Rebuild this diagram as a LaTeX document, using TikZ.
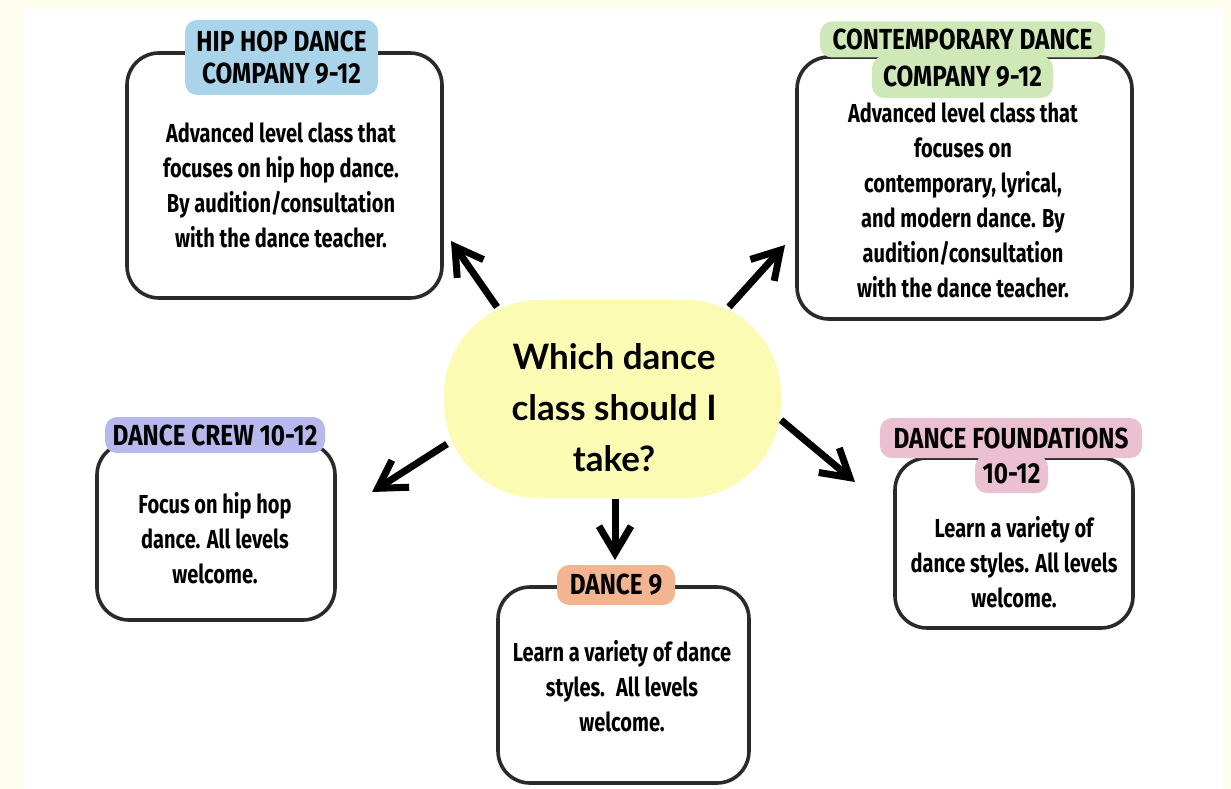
\documentclass[tikz,border=0pt]{standalone}
\usepackage{fontspec}
\setmainfont{Fira Sans}
\newfontfamily\titlefont[FakeStretch=0.84]{Fira Sans}
\newfontfamily\bodyfont[FakeStretch=0.77]{Fira Sans}
\newfontfamily\askfont{Lato}
\usetikzlibrary{arrows.meta}
\usetikzlibrary{positioning}

\definecolor{pagecream}{HTML}{FDFEEE}
\definecolor{boxline}{HTML}{2A2A2A}
\definecolor{askyellow}{HTML}{FBFBB4}
\definecolor{hhblue}{HTML}{A9D4EA}
\definecolor{cogreen}{HTML}{CFE8B8}
\definecolor{crpurple}{HTML}{B8B8EC}
\definecolor{fopink}{HTML}{EBC0D0}
\definecolor{dorange}{HTML}{F2B58F}

\tikzset{
  classbox/.style={draw=boxline, line width=3.6pt, rounded corners=32pt, fill=white, inner sep=0pt},
  tag/.style={rounded corners=12pt, inner sep=0pt, align=center,
    font=\titlefont\bfseries\fontsize{29}{32}\selectfont},
  blurb/.style={align=center, inner sep=0pt, font=\bodyfont\bfseries\fontsize{26}{35}\selectfont},
  pointer/.style={line width=7pt, -{Straight Barb[length=27pt,width=32pt]}}
}

\begin{document}
\begin{tikzpicture}[x=1pt,y=-1pt]
  \useasboundingbox (0,0) rectangle (1231,789);
  \fill[pagecream] (0,0) rectangle (1231,789);
  \fill[white] (24,9) rectangle (1223,789);

  % centre question
  \node[fill=askyellow, rounded corners=95pt, minimum width=337pt, minimum height=198pt] (ask) at (612.5,399) {};
  \node[align=center, font=\askfont\bfseries\fontsize{35}{51}\selectfont] (asktext) at (614,408)
    {Which dance\\class should I\\take?};

  % boxes
  \node[classbox, minimum width=315pt, minimum height=245pt] (hhbox) at (284.5,175.5) {};
  \node[classbox, minimum width=335pt, minimum height=262pt] (cobox) at (964.5,188) {};
  \node[classbox, minimum width=238pt, minimum height=177pt] (crbox) at (216,531.5) {};
  \node[classbox, minimum width=238pt, minimum height=170pt] (fobox) at (1014,543) {};
  \node[classbox, minimum width=251pt, minimum height=196pt] (dbox) at (623.5,685) {};

  % titles
  \node[tag, fill=hhblue, minimum width=193pt, minimum height=75pt] (hhtag) at (281.5,57.5)
    {HIP HOP DANCE\\COMPANY 9-12};
  \node[tag, fill=cogreen, minimum width=285pt, minimum height=36pt] (cotag) at (962.5,39.5)
    {CONTEMPORARY DANCE};
  \node[tag, fill=cogreen, minimum width=181pt, minimum height=42pt] (cotagb) at (962.5,77)
    {COMPANY 9-12};
  \node[tag, fill=crpurple, minimum width=220pt, minimum height=36pt] (crtag) at (215,435)
    {DANCE CREW 10-12};
  \node[tag, fill=fopink, minimum width=262pt, minimum height=40pt] (fotag) at (1011,438)
    {DANCE FOUNDATIONS};
  \node[tag, fill=fopink, minimum width=73pt, minimum height=38pt] (fotagb) at (1011.5,474)
    {10-12};
  \node[tag, fill=dorange, minimum width=118pt, minimum height=40pt] (dtag) at (616,585)
    {DANCE 9};

  % texts
  \node[blurb] (hhtext) at (281,185)
    {Advanced level class that\\focuses on hip hop dance.\\By audition/consultation\\with the dance teacher.};
  \node[blurb] (cotext) at (963,200)
    {Advanced level class that\\focuses on\\contemporary, lyrical,\\and modern dance. By\\audition/consultation\\with the dance teacher.};
  \node[blurb] (crtext) at (215,538)
    {Focus on hip hop\\dance. All levels\\welcome.};
  \node[blurb] (fotext) at (1014,562)
    {Learn a variety of\\dance styles. All levels\\welcome.};
  \node[blurb] (dtext) at (622,686)
    {Learn a variety of dance\\styles.~ All levels\\welcome.};

  % arrows
  \coordinate (hhfrom) at (497,307);
  \coordinate (hhto) at (451,241);
  \coordinate (cofrom) at (729,307);
  \coordinate (coto) at (785,245);
  \coordinate (crfrom) at (447,444);
  \coordinate (crto) at (372,492);
  \coordinate (fofrom) at (781,420);
  \coordinate (foto) at (855,482);
  \coordinate (dfrom) at (615,499);
  \coordinate (dto) at (615,560);
  \draw[pointer] (hhfrom) -- (hhto);
  \draw[pointer] (cofrom) -- (coto);
  \draw[pointer] (crfrom) -- (crto);
  \draw[pointer] (fofrom) -- (foto);
  \draw[pointer] (dfrom) -- (dto);
\end{tikzpicture}
\end{document}
